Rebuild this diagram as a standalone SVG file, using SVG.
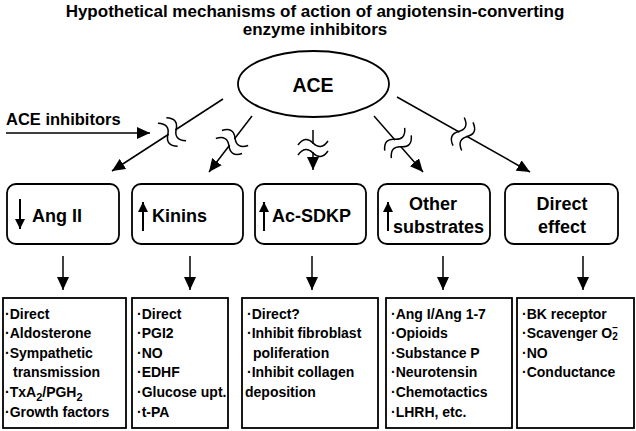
<svg xmlns="http://www.w3.org/2000/svg" width="636" height="431" viewBox="0 0 636 431">
<style>
text{font-family:"Liberation Sans",Arial,sans-serif;font-weight:bold;fill:#000}
.t{font-size:17px}
.h{font-size:18px}
.b{font-size:14px}
.ln{stroke:#000;stroke-width:1.5;fill:none}
.ls{stroke:#000;stroke-width:2;fill:none}
.bx{stroke:#000;stroke-width:1.8;fill:#fff}
.wv{stroke:#000;stroke-width:1.5;fill:none}
</style>
<defs>
<marker id="ah" markerUnits="userSpaceOnUse" markerWidth="14" markerHeight="12" refX="13" refY="6" orient="auto">
<path d="M0,0 L13,6 L0,12 z" fill="#000"/>
</marker>
<marker id="sm" markerUnits="userSpaceOnUse" markerWidth="11" markerHeight="10" refX="10" refY="5" orient="auto">
<path d="M0,0 L10,5 L0,10 z" fill="#000"/>
</marker>
<g id="brk">
<rect x="-15" y="-4" width="30" height="8" fill="#fff"/>
<path class="wv" d="M-15,-3 C-10,-10 -5,-10 0,-5 C5,0 10,0 15,-7"/>
<path class="wv" d="M-15,7 C-10,0 -5,0 0,5 C5,10 10,10 15,3"/>
</g>
</defs>
<rect width="636" height="431" fill="#fff"/>

<g id="title">
<text class="t" x="315" y="17" text-anchor="middle">Hypothetical mechanisms of action of angiotensin-converting</text>
<text class="t" x="315" y="35" text-anchor="middle">enzyme inhibitors</text>
</g>

<g id="connectors">
<line class="ln" x1="6" y1="133" x2="150" y2="133" marker-end="url(#ah)"/>
<line class="ln" x1="223" y1="99" x2="112" y2="171" marker-end="url(#ah)"/>
<use href="#brk" transform="translate(172,132) rotate(57)"/>
<line class="ln" x1="252" y1="116" x2="209" y2="172" marker-end="url(#ah)"/>
<use href="#brk" transform="translate(232,142) rotate(37.5)"/>
<line class="ln" x1="313" y1="130" x2="313" y2="170" marker-end="url(#ah)"/>
<use href="#brk" transform="translate(313,148)"/>
<line class="ln" x1="374" y1="116" x2="423" y2="172" marker-end="url(#ah)"/>
<use href="#brk" transform="translate(398,143) rotate(-41.2)"/>
<line class="ln" x1="397" y1="97" x2="530" y2="172" marker-end="url(#ah)"/>
<use href="#brk" transform="translate(463,134) rotate(-60.6)"/>
<line class="ln" x1="63" y1="256" x2="63" y2="290" marker-end="url(#ah)"/>
<line class="ln" x1="190" y1="256" x2="190" y2="290" marker-end="url(#ah)"/>
<line class="ln" x1="312" y1="256" x2="312" y2="290" marker-end="url(#ah)"/>
<line class="ln" x1="443" y1="256" x2="443" y2="290" marker-end="url(#ah)"/>
<line class="ln" x1="583" y1="256" x2="583" y2="290" marker-end="url(#ah)"/>
</g>

<g id="inhibitors-label">
<text x="6" y="125" style="font-size:16.5px">ACE inhibitors</text>
</g>

<g id="ace">
<ellipse cx="313.5" cy="84" rx="75.5" ry="33" class="bx"/>
<text x="313" y="92" text-anchor="middle" style="font-size:19.5px">ACE</text>
</g>

<g id="angII">
<rect class="bx" x="7" y="184" width="112" height="60" rx="9"/>
<line class="ls" x1="20" y1="199" x2="20" y2="229" marker-end="url(#sm)"/>
<text class="h" x="32" y="222">Ang II</text>
</g>
<g id="kinins">
<rect class="bx" x="132" y="184" width="111" height="60" rx="9"/>
<line class="ls" x1="143" y1="231" x2="143" y2="202" marker-end="url(#sm)"/>
<text class="h" x="152" y="222">Kinins</text>
</g>
<g id="acsdkp">
<rect class="bx" x="255" y="184" width="111" height="60" rx="9"/>
<line class="ls" x1="264" y1="231" x2="264" y2="202" marker-end="url(#sm)"/>
<text class="h" x="272" y="222">Ac-SDKP</text>
</g>
<g id="other">
<rect class="bx" x="378" y="184" width="112" height="60" rx="9"/>
<line class="ls" x1="388" y1="231" x2="388" y2="202" marker-end="url(#sm)"/>
<text class="h" x="433" y="210" text-anchor="middle">Other</text>
<text class="h" x="393" y="233">substrates</text>
</g>
<g id="direct">
<rect class="bx" x="505" y="184" width="113" height="60" rx="9"/>
<text class="h" x="562" y="210" text-anchor="middle">Direct</text>
<text class="h" x="562" y="233" text-anchor="middle">effect</text>
</g>

<g id="listA">
<rect class="bx" x="3" y="298" width="123" height="130"/>
<text class="b" x="5" y="319">·Direct</text>
<text class="b" x="5" y="338">·Aldosterone</text>
<text class="b" x="5" y="358">·Sympathetic</text>
<text class="b" x="13" y="377">transmission</text>
<text class="b" x="5" y="397">·TxA<tspan font-size="11" dy="4">2</tspan><tspan dy="-4">/PGH</tspan><tspan font-size="11" dy="4">2</tspan></text>
<text class="b" x="5" y="417">·Growth factors</text>
</g>
<g id="listB">
<rect class="bx" x="132" y="298" width="96" height="130"/>
<text class="b" x="137" y="319">·Direct</text>
<text class="b" x="137" y="338">·PGI2</text>
<text class="b" x="137" y="358">·NO</text>
<text class="b" x="137" y="377">·EDHF</text>
<text class="b" x="137" y="397">·Glucose upt.</text>
<text class="b" x="137" y="417">·t-PA</text>
</g>
<g id="listC">
<rect class="bx" x="242" y="298" width="136" height="130"/>
<text class="b" x="247" y="319">·Direct?</text>
<text class="b" x="247" y="338">·Inhibit fibroblast</text>
<text class="b" x="253" y="358">poliferation</text>
<text class="b" x="247" y="377">·Inhibit collagen</text>
<text class="b" x="245" y="397">deposition</text>
</g>
<g id="listD">
<rect class="bx" x="386" y="298" width="126" height="130"/>
<text class="b" x="391" y="319">·Ang I/Ang 1-7</text>
<text class="b" x="391" y="338">·Opioids</text>
<text class="b" x="391" y="358">·Substance P</text>
<text class="b" x="391" y="377">·Neurotensin</text>
<text class="b" x="391" y="397">·Chemotactics</text>
<text class="b" x="391" y="417">·LHRH, etc.</text>
</g>
<g id="listE">
<rect class="bx" x="517" y="298" width="117" height="130"/>
<text class="b" x="522" y="338">·Scavenger O<tspan font-size="10" dy="2">2</tspan><tspan font-size="10" dx="-5.6" dy="-9">−</tspan></text>
<text class="b" x="522" y="319">·BK receptor</text>
<text class="b" x="522" y="358">·NO</text>
<text class="b" x="522" y="377">·Conductance</text>
</g>
</svg>
